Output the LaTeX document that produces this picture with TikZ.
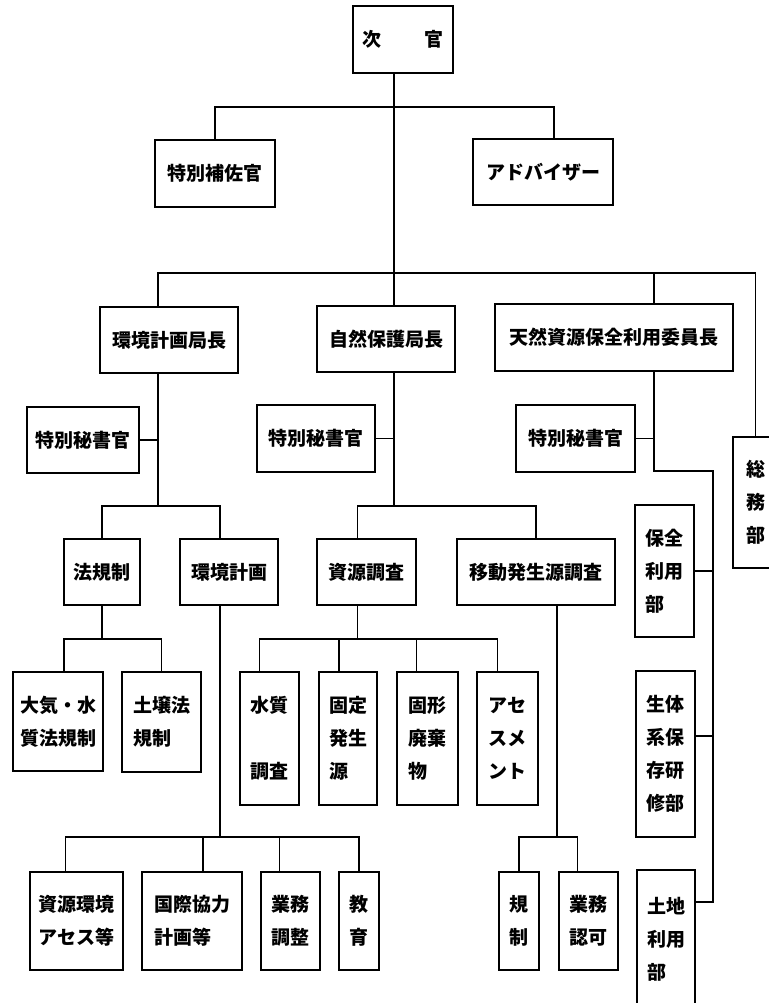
\documentclass[tikz,border=0pt]{standalone}
\usepackage{fontspec}
\newfontfamily\jp{Noto Sans CJK JP}
\begin{document}
\begin{tikzpicture}[x=1pt,y=-1pt,
  box/.style={draw, line width=1.3pt, inner sep=0pt, align=left, font=\jp\bfseries\fontsize{19}{33}\selectfont},
  ln/.style={line width=1.3pt}]
\useasboundingbox (0,0) rectangle (768,1003);
\fill[white] (0,0) rectangle (768,1003);
% boxes
\node[box, minimum width=100, minimum height=67] (jikan) at (403,39.5) {次\hspace{43pt}官};
\node[box, minimum width=120, minimum height=67] (hosa) at (215,173.5) {特別補佐官};
\node[box, minimum width=140, minimum height=66] (adv) at (543,172) {アドバイザー};
\node[box, minimum width=138, minimum height=66] (kankyo) at (169,340) {環境計画局長};
\node[box, minimum width=138, minimum height=66] (shizen) at (386,339) {自然保護局長};
\node[box, minimum width=238, minimum height=67] (tennen) at (614,337.5) {天然資源保全利用委員長};
\node[box, minimum width=45, minimum height=131] (somu) at (755.5,502.5) {総\\務\\部};
\node[box, minimum width=112, minimum height=66] (hisho1) at (83,440) {特別秘書官};
\node[box, minimum width=118, minimum height=67] (hisho2) at (316,438.5) {特別秘書官};
\node[box, minimum width=119, minimum height=67] (hisho3) at (575.5,438.5) {特別秘書官};
\node[box, minimum width=76, minimum height=66] (hoki) at (102,572) {法規制};
\node[box, minimum width=98, minimum height=66] (kkeikaku) at (229,572) {環境計画};
\node[box, minimum width=99, minimum height=66] (shigen) at (366.5,572) {資源調査};
\node[box, minimum width=158, minimum height=66] (ido) at (536,572) {移動発生源調査};
\node[box, minimum width=90, minimum height=99] (taiki) at (58,721.5) {大気・水\\質法規制};
\node[box, minimum width=79, minimum height=100] (dojo) at (161.5,722) {土壌法\\規制};
\node[box, minimum width=59, minimum height=133] (suishitsu) at (269.5,738.5) {水質\\[33pt]調査};
\node[box, minimum width=58, minimum height=133] (kotei) at (348,738.5) {固定\\発生\\源};
\node[box, minimum width=61, minimum height=133] (kokei) at (427.5,738.5) {固形\\廃棄\\物};
\node[box, minimum width=61, minimum height=133] (asesu) at (507.5,738.5) {アセ\\スメ\\ント};
\node[box, minimum width=59, minimum height=132] (hozen) at (664.5,571) {保全\\利用\\部};
\node[box, minimum width=59, minimum height=166] (seitai) at (665.5,754) {生体\\系保\\存研\\修部};
\node[box, minimum width=58, minimum height=138] (tochi) at (666,939) {土地\\利用\\部};
\node[box, minimum width=93, minimum height=98] (r4a) at (76.5,921) {資源環境\\アセス等};
\node[box, minimum width=100, minimum height=98] (r4b) at (192,921) {国際協力\\計画等};
\node[box, minimum width=59, minimum height=98] (r4c) at (290.5,921) {業務\\調整};
\node[box, minimum width=40, minimum height=98] (r4d) at (359,921) {教\\育};
\node[box, minimum width=40, minimum height=98] (kisei) at (519,921) {規\\制};
\node[box, minimum width=59, minimum height=98] (gyomu) at (588.5,921) {業務\\認可};
% bus levels
\coordinate (y1) at (0,107);
\coordinate (y2) at (0,273);
\coordinate (y3) at (0,506);
\coordinate (y4) at (0,639);
\coordinate (y5) at (0,837);
\coordinate (rv) at (713,471);
% connectors
\draw[ln] ([xshift=-9]jikan.south) -- ([xshift=8]shizen.north);
\draw[ln] (hosa.north) |- ([xshift=11]adv.north |- y1) -- ([xshift=11]adv.north);
\draw[ln] ([xshift=-11]kankyo.north) |- (somu.north |- y2) -- (somu.north);
\draw[ln] ([xshift=40]tennen.north) -- ([xshift=40]tennen.north |- y2);
\draw[ln] ([xshift=-11]kankyo.south) -- ([xshift=-11]kankyo.south |- y3);
\draw[ln] (hoki.north) |- ([xshift=-9]kkeikaku.north |- y3) -- ([xshift=-9]kkeikaku.north);
\draw[ln] (hisho1.east) -- ([xshift=-11]kankyo.south |- hisho1.east);
\draw[ln] ([xshift=8]shizen.south) -- ([xshift=8]shizen.south |- y3);
\draw[ln] ([xshift=-9]shigen.north) |- (ido.north |- y3) -- (ido.north);
\draw[ln] (hisho2.east) -- ([xshift=8]shizen.south |- hisho2.east);
\draw[ln] ([xshift=40]tennen.south) |- (rv) -- ([yshift=37]tochi.east -| rv) -- ([yshift=37]tochi.east);
\draw[ln] (hisho3.east) -- ([xshift=40]tennen.south |- hisho3.east);
\draw[ln] (hozen.east) -- (hozen.east -| rv);
\draw[ln] ([yshift=18]seitai.east) -- ([yshift=18]seitai.east -| rv);
\draw[ln] (hoki.south) -- (hoki.south |- y4);
\draw[ln] ([xshift=6]taiki.north) |- (dojo.north |- y4) -- (dojo.north);
\draw[ln] ([xshift=-9]shigen.south) -- ([xshift=-9]shigen.south |- y4);
\draw[ln] ([xshift=-10]suishitsu.north) |- ([xshift=-10]asesu.north |- y4) -- ([xshift=-10]asesu.north);
\draw[ln] ([xshift=-9]kotei.north) -- ([xshift=-9]kotei.north |- y4);
\draw[ln] ([xshift=-11]kokei.north) -- ([xshift=-11]kokei.north |- y4);
\draw[ln] ([xshift=-9]kkeikaku.south) -- ([xshift=-9]kkeikaku.south |- y5);
\draw[ln] ([xshift=-11]r4a.north) |- (r4d.north |- y5) -- (r4d.north);
\draw[ln] ([xshift=11]r4b.north) -- ([xshift=11]r4b.north |- y5);
\draw[ln] ([xshift=-11]r4c.north) -- ([xshift=-11]r4c.north |- y5);
\draw[ln] ([xshift=21]ido.south) -- ([xshift=21]ido.south |- y5);
\draw[ln] (kisei.north) |- ([xshift=-11]gyomu.north |- y5) -- ([xshift=-11]gyomu.north);
\end{tikzpicture}
\end{document}
